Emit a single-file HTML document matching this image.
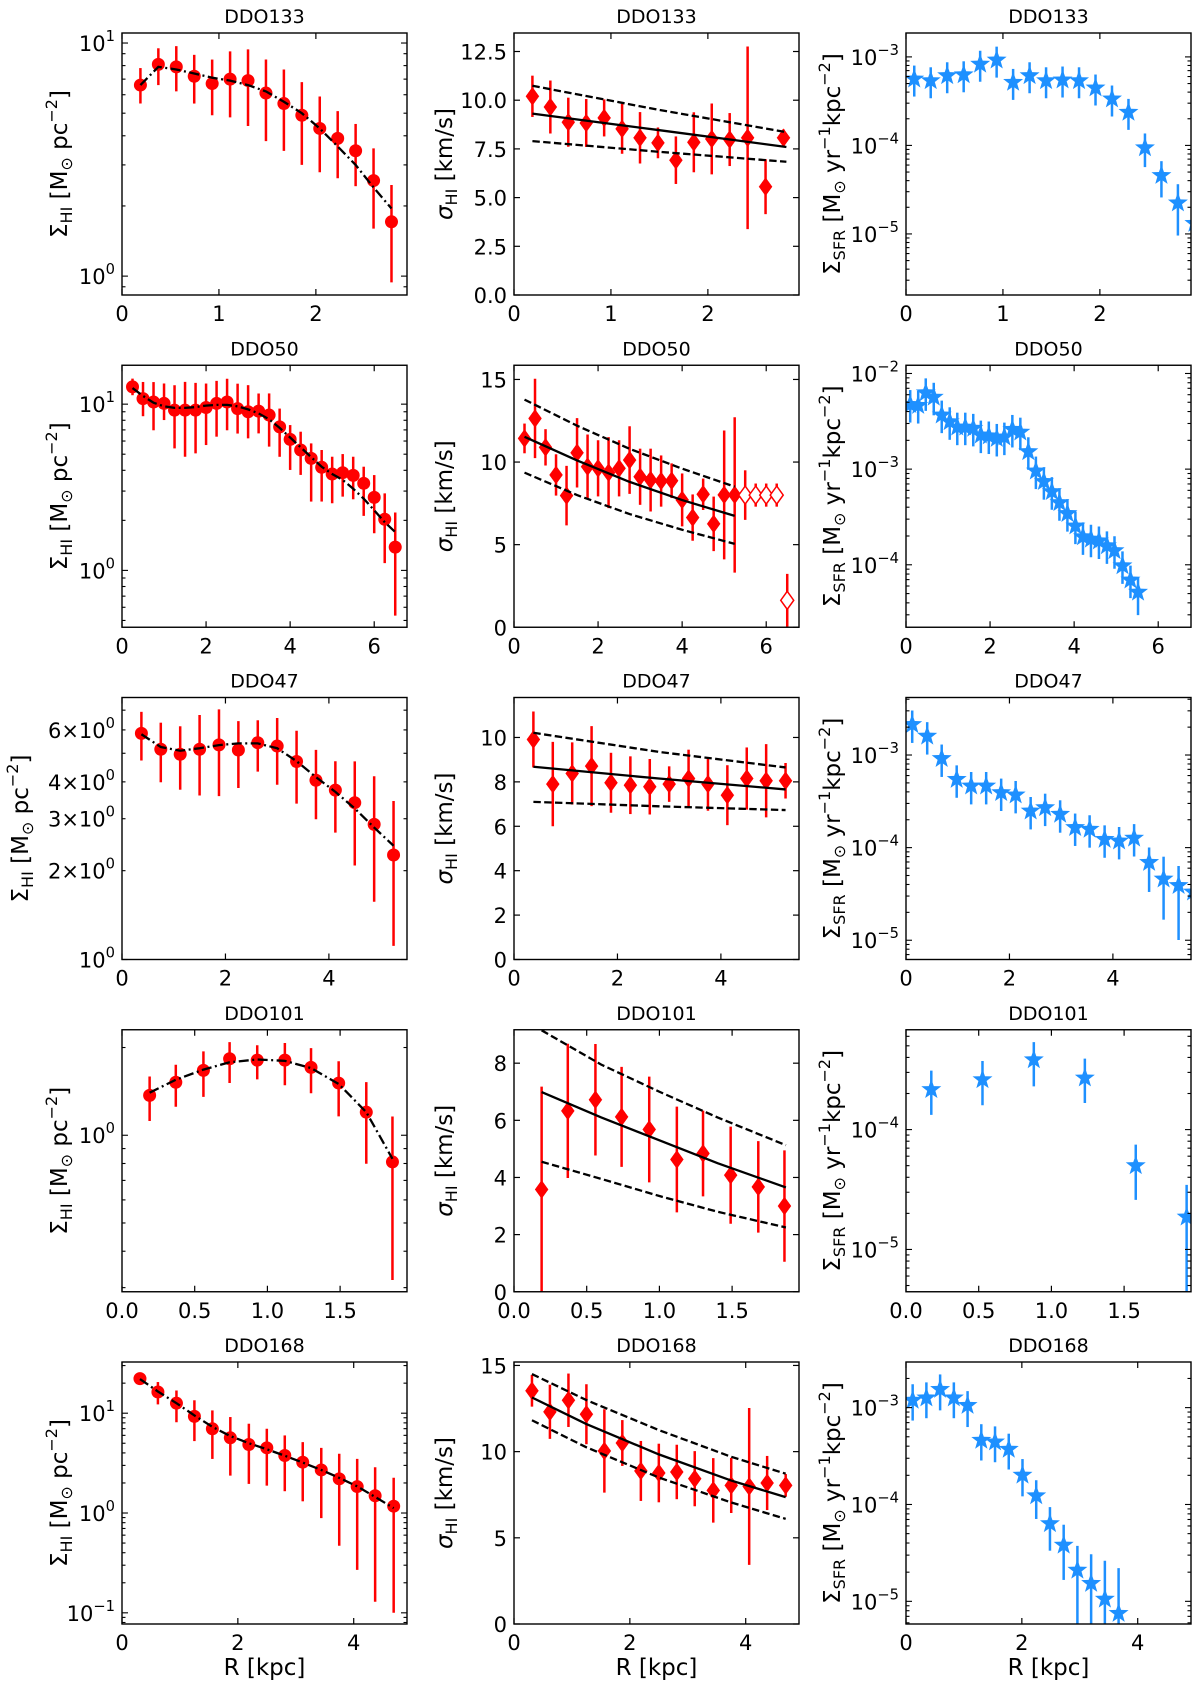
<!DOCTYPE html>
<html><head><meta charset="utf-8"><style>
html,body{margin:0;padding:0;background:#fff;}
svg{display:block;font-family:"DejaVu Sans","Liberation Sans",sans-serif;}
</style></head><body>
<svg id="fig" xmlns="http://www.w3.org/2000/svg" width="1200" height="1690" viewBox="0 0 1200 1690"></svg>
<script>
// ---------------- DATA ----------------
// DDO133
const R133=[0.19,0.375,0.56,0.745,0.93,1.115,1.30,1.485,1.67,1.855,2.04,2.225,2.41,2.595,2.78];
const hi133=[6.6,8.1,7.9,7.2,6.7,7.0,6.9,6.1,5.5,4.9,4.3,3.9,3.45,2.57,1.71];
const hiUp133=[.073,.069,.089,.092,.103,.119,.134,.144,.146,.142,.137,.117,.115,.138,.158];
const hiDn133=[.079,.089,.105,.117,.136,.164,.195,.206,.203,.213,.188,.171,.152,.206,.26];
const hiFit133=[6.6,7.9,7.7,7.4,7.1,6.9,6.6,6.2,5.6,5.0,4.3,3.6,3.0,2.4,1.95];
const sig133=[10.2,9.65,8.87,8.83,9.09,8.53,8.07,7.81,6.92,7.84,8.01,7.98,8.07,5.56,8.07];
const sigErr133=[1.06,1.36,1.26,1.23,0.95,1.28,1.32,0.79,1.22,1.54,1.82,1.36,4.69,1.41,0.43];
const fitR133=[0.19,1.5,2.81];
const fit133=[9.31,8.46,7.6];
const fitHi133=[10.74,9.5,8.36];
const fitLo133=[7.9,7.35,6.84];
const sfrR133=[0.085,0.255,0.425,0.595,0.765,0.935,1.105,1.275,1.445,1.615,1.785,1.955,2.125,2.295,2.465,2.635,2.805,2.975];
const sfr133=[5.78e-4,5.53e-4,6.3e-4,6.46e-4,8.5e-4,9.46e-4,5.3e-4,6.3e-4,5.53e-4,5.64e-4,5.53e-4,4.58e-4,3.44e-4,2.43e-4,9.66e-5,4.7e-5,2.3e-5,1.35e-5];
const sfrUp133=[.14,.14,.14,.14,.14,.14,.14,.14,.14,.14,.14,.14,.14,.14,.15,.15,.2,.2];
const sfrDn133=[.21,.21,.21,.21,.21,.21,.21,.21,.21,.21,.21,.21,.21,.21,.23,.26,.38,.4];
// DDO50
const R50=[0.25,0.5,0.75,1.0,1.25,1.5,1.75,2.0,2.25,2.5,2.75,3.0,3.25,3.5,3.75,4.0,4.25,4.5,4.75,5.0,5.25,5.5,5.75,6.0,6.25,6.5];
const hi50=[12.7,10.8,10.3,10.1,9.2,9.2,9.2,9.55,10.1,10.3,9.4,9.0,9.08,8.6,7.3,6.14,5.3,4.72,4.17,3.8,3.87,3.73,3.34,2.75,2.03,1.38];
const hiUp50=[.05,.1,.12,.12,.15,.17,.164,.144,.136,.14,.15,.16,.106,.13,.11,.086,.11,.09,.104,.104,.112,.112,.1,.134,.156,.208];
const hiDn50=[.05,.106,.17,.1,.23,.28,.26,.226,.2,.17,.15,.16,.134,.19,.18,.184,.15,.26,.206,.176,.144,.144,.196,.216,.264,.412];
const hiFit50=[12.5,11.2,10.2,9.7,9.5,9.5,9.6,9.8,9.9,9.9,9.7,9.3,8.8,8.1,7.2,6.3,5.5,4.8,4.2,3.8,3.5,3.1,2.7,2.3,1.95,1.7];
const sigR50=[0.25,0.5,0.75,1.0,1.25,1.5,1.75,2.0,2.25,2.5,2.75,3.0,3.25,3.5,3.75,4.0,4.25,4.5,4.75,5.0,5.25];
const sig50=[11.43,12.64,10.89,9.22,7.97,10.56,9.72,9.62,9.36,9.62,10.12,9.11,8.91,8.85,8.87,7.71,6.64,8.05,6.26,8.01,8.01];
const sigErr50=[0.9,2.4,1.1,1.25,1.8,2.1,1.95,1.7,2.15,1.7,2.05,1.7,1.9,1.55,1.05,1.6,1.4,0.95,1.65,3.9,4.7];
const openR50=[5.5,5.75,6.0,6.25,6.5];
const open50=[8.0,8.0,8.0,8.0,1.63];
const openErr50=[1.5,0.7,0.7,0.7,1.6];
const fitR50=[0.25,1.5,2.75,4.0,5.25];
const fit50=[11.53,10.1,8.8,7.7,6.74];
const fitHi50=[13.78,12.2,10.8,9.6,8.51];
const fitLo50=[9.36,8.0,6.85,5.9,5.05];
const sfrR50=[0.10,0.29,0.47,0.66,0.85,1.04,1.22,1.41,1.60,1.78,1.97,2.16,2.34,2.53,2.72,2.91,3.09,3.28,3.47,3.65,3.84,4.03,4.21,4.40,4.59,4.78,4.96,5.15,5.34,5.52];
const sfr50=[4.86e-3,4.75e-3,6.44e-3,5.79e-3,3.77e-3,3.21e-3,2.82e-3,2.82e-3,2.74e-3,2.33e-3,2.28e-3,2.15e-3,2.22e-3,2.67e-3,2.50e-3,1.56e-3,9.8e-4,7.6e-4,5.97e-4,4.58e-4,3.52e-4,2.61e-4,2.01e-4,1.90e-4,1.82e-4,1.62e-4,1.44e-4,1.0e-4,7.1e-5,5.3e-5];
const sfrUp50=[.14,.14,.14,.14,.14,.14,.14,.14,.14,.14,.14,.14,.14,.14,.14,.14,.14,.14,.14,.14,.14,.14,.14,.14,.14,.14,.14,.14,.14,.14];
const sfrDn50=[.2,.2,.2,.2,.2,.2,.2,.2,.2,.2,.2,.2,.2,.2,.2,.2,.2,.2,.2,.2,.2,.2,.2,.2,.2,.2,.2,.2,.2,.25];
// DDO47
const R47=[0.375,0.75,1.125,1.5,1.875,2.25,2.625,3.0,3.375,3.75,4.125,4.5,4.875,5.25];
const hi47=[5.84,5.16,4.96,5.16,5.34,5.13,5.43,5.29,4.69,4.05,3.75,3.40,2.87,2.26];
const hiUp47=[.073,.09,.095,.116,.12,.098,.076,.095,.104,.103,.098,.14,.163,.183];
const hiDn47=[.092,.112,.12,.157,.174,.129,.098,.131,.143,.132,.144,.213,.262,.308];
const hiFit47=[5.8,5.25,5.1,5.2,5.33,5.4,5.4,5.2,4.7,4.15,3.7,3.25,2.8,2.43];
const sig47=[9.91,7.90,8.38,8.71,7.96,7.85,7.78,7.90,8.15,7.90,7.40,8.15,8.05,8.05];
const sigErr47=[1.26,1.9,1.4,1.8,1.35,1.3,1.25,0.8,1.3,1.2,1.35,1.4,1.65,0.8];
const fitR47=[0.375,2.8,5.25];
const fit47=[8.68,8.15,7.66];
const fitHi47=[10.21,9.35,8.65];
const fitLo47=[7.1,6.9,6.73];
const sfrR47=[0.12,0.41,0.69,0.98,1.26,1.55,1.84,2.12,2.41,2.69,2.98,3.27,3.55,3.84,4.12,4.41,4.70,4.98,5.27,5.55];
const sfr47=[2.19e-3,1.64e-3,9.4e-4,5.6e-4,4.75e-4,4.75e-4,4.03e-4,3.8e-4,2.55e-4,2.77e-4,2.35e-4,1.69e-4,1.62e-4,1.26e-4,1.21e-4,1.30e-4,7.1e-5,4.7e-5,4.0e-5,3.4e-5];
const sfrUp47=[.14,.14,.14,.14,.14,.14,.14,.14,.14,.14,.14,.14,.14,.14,.14,.14,.15,.23,.2,.2];
const sfrDn47=[.21,.21,.21,.21,.21,.21,.21,.21,.21,.21,.21,.21,.21,.21,.21,.21,.33,.45,.6,.5];
// DDO101
const R101=[0.19,0.37,0.56,0.74,0.93,1.12,1.30,1.49,1.68,1.86];
const hi101=[1.37,1.52,1.67,1.83,1.81,1.81,1.71,1.51,1.20,0.81];
const hiUp101=[.065,.06,.065,.057,.051,.059,.066,.075,.103,.156];
const hiDn101=[.088,.084,.091,.083,.066,.086,.089,.114,.177,.405];
const hiFit101=[1.4,1.55,1.68,1.78,1.82,1.8,1.7,1.5,1.2,0.83];
const sig101=[3.58,6.33,6.72,6.12,5.68,4.63,4.84,4.08,3.67,3.0];
const sigErr101=[3.6,2.35,1.95,1.75,1.85,1.85,1.5,1.7,1.6,1.95];
const fitR101=[0.19,0.6,1.0,1.4,1.87];
const fit101=[6.99,6.1,5.3,4.5,3.65];
const fitHi101=[9.15,7.95,7.0,6.1,5.13];
const fitLo101=[4.55,3.95,3.35,2.8,2.25];
const sfrR101=[0.174,0.526,0.879,1.23,1.58,1.93];
const sfr101=[2.2e-4,2.66e-4,3.9e-4,2.75e-4,5.1e-5,1.9e-5];
const sfrUp101=[.15,.147,.139,.153,.167,.26];
const sfrDn101=[.22,.222,.231,.217,.294,1.0];
// DDO168
const R168=[0.31,0.62,0.94,1.25,1.56,1.87,2.19,2.50,2.81,3.12,3.44,3.75,4.06,4.37,4.69];
const hi168=[22.2,16.3,12.6,9.3,6.98,5.67,4.86,4.5,3.77,3.23,2.70,2.2,1.84,1.49,1.17];
const hiUp168=[.03,.1,.127,.161,.184,.208,.208,.191,.201,.201,.221,.251,.278,.285,.285];
const hiDn168=[.03,.124,.191,.248,.302,.379,.395,.379,.358,.392,.483,.67,.834,1.062,1.067];
const hiFit168=[22,16.5,12.6,9.5,7.3,5.9,5.0,4.35,3.75,3.2,2.7,2.25,1.85,1.45,1.12];
const sig168=[13.53,12.31,12.98,12.17,10.04,10.5,8.88,8.76,8.82,8.43,7.75,8.04,7.98,8.18,8.04];
const sigErr168=[0.92,1.57,1.55,1.74,2.42,1.33,1.74,1.7,1.58,1.6,1.87,1.6,4.55,1.57,0.66];
const fitR168=[0.31,1.25,2.5,3.75,4.69];
const fit168=[13.14,11.6,9.84,8.32,7.36];
const fitHi168=[14.5,12.99,11.25,9.7,8.72];
const fitLo168=[11.82,10.25,8.5,7.05,6.1];
const sfrR168=[0.115,0.352,0.589,0.826,1.063,1.30,1.537,1.774,2.011,2.248,2.485,2.722,2.959,3.196,3.433,3.67];
const sfr168=[1.22e-3,1.29e-3,1.58e-3,1.29e-3,1.08e-3,4.72e-4,4.53e-4,3.81e-4,2.06e-4,1.26e-4,6.5e-5,3.9e-5,2.15e-5,1.57e-5,1.08e-5,7.7e-6];
const sfrUp168=[.155,.15,.144,.15,.137,.155,.15,.15,.155,.15,.16,.2,.24,.29,.385,.457];
const sfrDn168=[.22,.22,.227,.22,.234,.22,.22,.22,.23,.25,.29,.37,1.0,1.0,1.0,1.0];

// ---------------- DRAWING ----------------
const svg=document.getElementById('fig');
const NS='http://www.w3.org/2000/svg';
function mk(tag,attrs,parent){const e=document.createElementNS(NS,tag);for(const k in attrs)e.setAttribute(k,attrs[k]);(parent||svg).appendChild(e);return e;}
const W=285,H=262,LEFTS=[122,514,906];
const RED='#ff0000',BLUE='#1e90ff';
const TFS=21;
let clipN=0;
function lg(v){return Math.log(v)/Math.LN10;}

function addSup(t,base,exp,fs){
  const a=mk('tspan',{},t);a.textContent=base;
  const b=mk('tspan',{dy:-10,'font-size':fs*0.7},t);b.textContent=exp;
  const c=mk('tspan',{dy:10,'font-size':fs},t);c.textContent='';
}
function fmtLog(v){
  const e=Math.floor(lg(v)+1e-9);const m=Math.round(v/Math.pow(10,e));
  return {base:(m===1?'10':m+'\u00d710'),exp:String(e).replace('-','\u2212')};
}
function yLabel(kind,x,yc){
  const t=mk('text',{x:x,y:yc,'font-size':23,'text-anchor':'middle',transform:'rotate(-90 '+x+' '+yc+')',fill:'#000'});
  
  
  const parts={
    hi:[['\u03a3',0,23],['HI',5,16],[' [M',-5,23],['\u2299',5,16],[' pc',-5,23],['\u22122',-10,16],[']',10,23]],
    sig:[['\u03c3',0,23,1],['HI',5,16],[' [km/s]',-5,23]],
    sfr:[['\u03a3',0,23],['SFR',5,16],[' [M',-5,23],['\u2299',5,16],[' yr',-5,23],['\u22121',-10,16],['kpc',10,23],['\u22122',-10,16],[']',10,23]]
  }[kind];
  parts.forEach(p=>{const s=mk('tspan',{dy:p[1],'font-size':p[2]},t);if(p[3])s.setAttribute('font-style','italic');s.textContent=p[0];});
}

function panel(row,col,cfg){
  const L=LEFTS[col],T=33+332.25*row,B=T+H,Rr=L+W;
  const g=mk('g',{});
  
  
  const xs=v=>L+v/cfg.xmax*W;
  let ys;
  if(cfg.log){const a=cfg.ymin,b=cfg.ymax;ys=v=>B-(lg(v)-a)/(b-a)*H;}
  else{ys=v=>B-(v-0)/cfg.ymax*H;}
  const id='clip'+(clipN++);
  const cp=mk('clipPath',{id:id},g);mk('rect',{x:L,y:T,width:W,height:H},cp);
  const plot=mk('g',{'clip-path':'url(#'+id+')'},g);
  
  
  const tt=mk('text',{x:L+W/2,y:T-10,'font-size':19,'text-anchor':'middle'},g);
  
  
  tt.textContent=cfg.title;
  cfg.xticks.forEach(v=>{
    const x=xs(v);
    mk('line',{x1:x,y1:B,x2:x,y2:B-6,stroke:'#000','stroke-width':1.2},g);
    mk('line',{x1:x,y1:T,x2:x,y2:T+6,stroke:'#000','stroke-width':1.2},g);
    const lab=mk('text',{x:x,y:B+26,'font-size':TFS,'text-anchor':'middle'},g);
    
    
    lab.textContent=cfg.xfmt?v.toFixed(1):String(v);
  });
  if(cfg.log){
    for(let d=Math.floor(cfg.ymin);d<=Math.ceil(cfg.ymax);d++){
      for(let k=1;k<=9;k++){
        const lv=lg(k)+d; if(lv<cfg.ymin-1e-6||lv>cfg.ymax+1e-6)continue;
        const y=ys(Math.pow(10,lv)),len=(k===1)?6:3.5;
        mk('line',{x1:L,y1:y,x2:L+len,y2:y,stroke:'#000','stroke-width':1.1},g);
        mk('line',{x1:Rr,y1:y,x2:Rr-len,y2:y,stroke:'#000','stroke-width':1.1},g);
      }
    }
  } else {
    cfg.yticks.forEach(v=>{const y=ys(v);
      mk('line',{x1:L,y1:y,x2:L+6,y2:y,stroke:'#000','stroke-width':1.2},g);
      mk('line',{x1:Rr,y1:y,x2:Rr-6,y2:y,stroke:'#000','stroke-width':1.2},g);});
  }
  cfg.ylabels.forEach(v=>{
    const y=ys(v);
    const t=mk('text',{x:L-7,y:y+8,'font-size':TFS,'text-anchor':'end'},g);
    
    
    if(cfg.log){const f=fmtLog(v);addSup(t,f.base,f.exp,TFS);}
    else t.textContent=cfg.ydec?v.toFixed(1):String(v);
  });
  const fr=mk('rect',{x:L,y:T,width:W,height:H,fill:'none',stroke:'#000','stroke-width':1.4},g);
  
  
  yLabel(cfg.ykind,cfg.ylx||[67,452,840][col],T+H/2);
  if(row===4){
    const xl=mk('text',{x:L+W/2,y:1675,'font-size':23,'text-anchor':'middle'},g);
    
    
    xl.textContent='R [kpc]';
  }
  return {xs:xs,ys:ys,plot:plot,log:cfg.log};
}

function vbar(p,x,y1,y2,color){
  const l=mk('line',{x1:x,y1:y1,x2:x,y2:y2,stroke:color,'stroke-width':2.5},p.plot);
  
  
}
function circles(p,R,v,up,dn){
  R.forEach((r,i)=>{const x=p.xs(r);
    vbar(p,x,p.ys(v[i]*Math.pow(10,up[i])),p.ys(v[i]/Math.pow(10,dn[i])),RED);
    const c=mk('circle',{cx:x,cy:p.ys(v[i]),r:6.5,fill:RED},p.plot);
    
    });
}
function diamonds(p,R,v,err,open){
  R.forEach((r,i)=>{const x=p.xs(r),y=p.ys(v[i]);
    vbar(p,x,p.ys(v[i]+err[i]),p.ys(Math.max(v[i]-err[i],-1)),RED);
    const d=mk('polygon',{points:(x)+','+(y-9)+' '+(x+6.5)+','+y+' '+x+','+(y+9)+' '+(x-6.5)+','+y,
      fill:open?'#fff':RED,stroke:RED,'stroke-width':open?1.5:0.5},p.plot);
    
    });
}
function stars(p,R,v,up,dn){
  R.forEach((r,i)=>{const x=p.xs(r),y=p.ys(v[i]);
    vbar(p,x,p.ys(v[i]*Math.pow(10,up[i])),p.ys(v[i]/Math.pow(10,dn[i])),BLUE);
    let pts=[];for(let k=0;k<10;k++){const a=-Math.PI/2+k*Math.PI/5,rr=(k%2===0)?10.5:4.3;pts.push((x+rr*Math.cos(a)).toFixed(2)+','+(y+1+rr*Math.sin(a)).toFixed(2));}
    const s=mk('polygon',{points:pts.join(' '),fill:BLUE},p.plot);
    
    });
}
function curve(p,R,v,dash,name){
  const d=R.map((r,i)=>(i?'L':'M')+p.xs(r).toFixed(2)+','+p.ys(v[i]).toFixed(2)).join(' ');
  const a={d:d,fill:'none',stroke:'#000','stroke-width':2.3};if(dash)a['stroke-dasharray']=dash;
  const e=mk('path',a,p.plot);
  
  
}
const DD='10,3.5,2,3.5',DS='7.4,3.4';

// Row 0 DDO133
let p=panel(0,0,{name:'ddo133-hi-panel',title:'DDO133',xmax:2.94,xticks:[0,1,2],log:true,ymin:-0.081,ymax:1.043,ylabels:[1,10],ykind:'hi'});
circles(p,R133,hi133,hiUp133,hiDn133);curve(p,R133,hiFit133,DD,'hi-model-line');
p=panel(0,1,{name:'ddo133-sigma-panel',title:'DDO133',xmax:2.94,xticks:[0,1,2],log:false,ymax:13.45,yticks:[0,2.5,5,7.5,10,12.5],ylabels:[0,2.5,5,7.5,10,12.5],ydec:true,ykind:'sig'});
diamonds(p,R133,sig133,sigErr133,false);curve(p,fitR133,fit133,null,'sigma-fit-line');curve(p,fitR133,fitHi133,DS,'sigma-fit-upper');curve(p,fitR133,fitLo133,DS,'sigma-fit-lower');
p=panel(0,2,{name:'ddo133-sfr-panel',title:'DDO133',xmax:2.94,xticks:[0,1,2],log:true,ymin:-5.69,ymax:-2.73,ylabels:[1e-5,1e-4,1e-3],ykind:'sfr'});
stars(p,sfrR133,sfr133,sfrUp133,sfrDn133);
// Row 1 DDO50
p=panel(1,0,{name:'ddo50-hi-panel',title:'DDO50',xmax:6.78,xticks:[0,2,4,6],log:true,ymin:-0.342,ymax:1.234,ylabels:[1,10],ykind:'hi'});
circles(p,R50,hi50,hiUp50,hiDn50);curve(p,R50,hiFit50,DD,'hi-model-line');
p=panel(1,1,{name:'ddo50-sigma-panel',title:'DDO50',xmax:6.78,xticks:[0,2,4,6],log:false,ymax:15.86,yticks:[0,5,10,15],ylabels:[0,5,10,15],ykind:'sig'});
diamonds(p,sigR50,sig50,sigErr50,false);diamonds(p,openR50,open50,openErr50,true);
curve(p,fitR50,fit50,null,'sigma-fit-line');curve(p,fitR50,fitHi50,DS,'sigma-fit-upper');curve(p,fitR50,fitLo50,DS,'sigma-fit-lower');
p=panel(1,2,{name:'ddo50-sfr-panel',title:'DDO50',xmax:6.78,xticks:[0,2,4,6],log:true,ymin:-4.653,ymax:-1.914,ylabels:[1e-4,1e-3,1e-2],ykind:'sfr'});
stars(p,sfrR50,sfr50,sfrUp50,sfrDn50);
// Row 2 DDO47
p=panel(2,0,{name:'ddo47-hi-panel',title:'DDO47',xmax:5.51,xticks:[0,2,4],log:true,ymin:0,ymax:0.888,ylabels:[1,2,3,4,6],ykind:'hi',ylx:28});
circles(p,R47,hi47,hiUp47,hiDn47);curve(p,R47,hiFit47,DD,'hi-model-line');
p=panel(2,1,{name:'ddo47-sigma-panel',title:'DDO47',xmax:5.51,xticks:[0,2,4],log:false,ymax:11.8,yticks:[0,2,4,6,8,10],ylabels:[0,2,4,6,8,10],ykind:'sig'});
diamonds(p,R47,sig47,sigErr47,false);curve(p,fitR47,fit47,null,'sigma-fit-line');curve(p,fitR47,fitHi47,DS,'sigma-fit-upper');curve(p,fitR47,fitLo47,DS,'sigma-fit-lower');
p=panel(2,2,{name:'ddo47-sfr-panel',title:'DDO47',xmax:5.51,xticks:[0,2,4],log:true,ymin:-5.208,ymax:-2.379,ylabels:[1e-5,1e-4,1e-3],ykind:'sfr'});
stars(p,sfrR47,sfr47,sfrUp47,sfrDn47);
// Row 3 DDO101
p=panel(3,0,{name:'ddo101-hi-panel',title:'DDO101',xmax:1.96,xticks:[0,0.5,1.0,1.5],xfmt:true,log:true,ymin:-0.537,ymax:0.362,ylabels:[1],ykind:'hi'});
circles(p,R101,hi101,hiUp101,hiDn101);curve(p,R101,hiFit101,DD,'hi-model-line');
p=panel(3,1,{name:'ddo101-sigma-panel',title:'DDO101',xmax:1.96,xticks:[0,0.5,1.0,1.5],xfmt:true,log:false,ymax:9.17,yticks:[0,2,4,6,8],ylabels:[0,2,4,6,8],ykind:'sig'});
diamonds(p,R101,sig101,sigErr101,false);curve(p,fitR101,fit101,null,'sigma-fit-line');curve(p,fitR101,fitHi101,DS,'sigma-fit-upper');curve(p,fitR101,fitLo101,DS,'sigma-fit-lower');
p=panel(3,2,{name:'ddo101-sfr-panel',title:'DDO101',xmax:1.96,xticks:[0,0.5,1.0,1.5],xfmt:true,log:true,ymin:-5.353,ymax:-3.167,ylabels:[1e-5,1e-4],ykind:'sfr'});
stars(p,sfrR101,sfr101,sfrUp101,sfrDn101);
// Row 4 DDO168
p=panel(4,0,{name:'ddo168-hi-panel',title:'DDO168',xmax:4.92,xticks:[0,2,4],log:true,ymin:-1.112,ymax:1.513,ylabels:[0.1,1,10],ykind:'hi'});
circles(p,R168,hi168,hiUp168,hiDn168);curve(p,R168,hiFit168,DD,'hi-model-line');
p=panel(4,1,{name:'ddo168-sigma-panel',title:'DDO168',xmax:4.92,xticks:[0,2,4],log:false,ymax:15.2,yticks:[0,5,10,15],ylabels:[0,5,10,15],ykind:'sig'});
diamonds(p,R168,sig168,sigErr168,false);curve(p,fitR168,fit168,null,'sigma-fit-line');curve(p,fitR168,fitHi168,DS,'sigma-fit-upper');curve(p,fitR168,fitLo168,DS,'sigma-fit-lower');
p=panel(4,2,{name:'ddo168-sfr-panel',title:'DDO168',xmax:4.92,xticks:[0,2,4],log:true,ymin:-5.234,ymax:-2.529,ylabels:[1e-5,1e-4,1e-3],ykind:'sfr'});
stars(p,sfrR168,sfr168,sfrUp168,sfrDn168);
</script>
</body></html>
